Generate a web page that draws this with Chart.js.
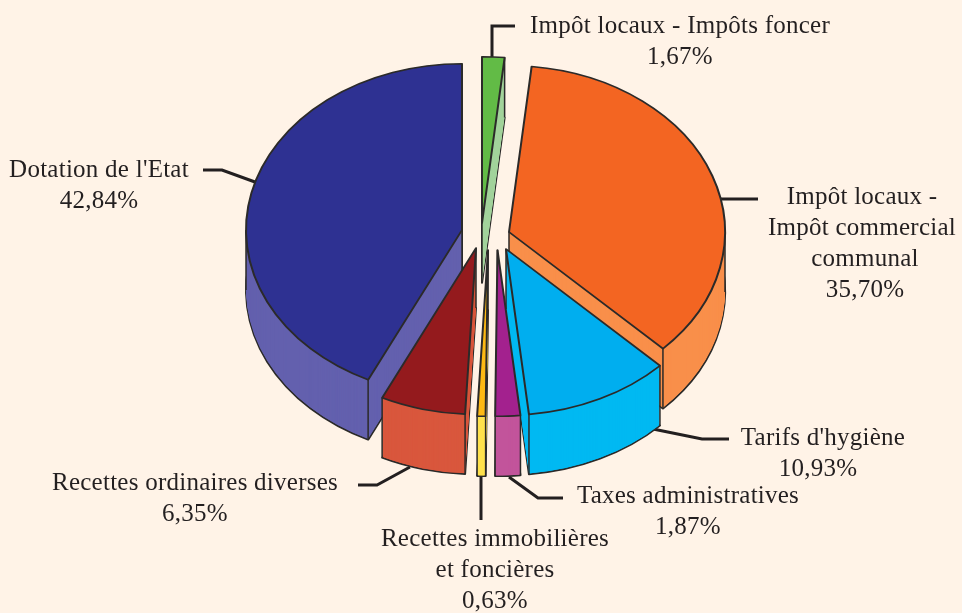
<!DOCTYPE html>
<html>
<head>
<meta charset="utf-8">
<title>Recettes</title>
<script src="https://cdn.jsdelivr.net/npm/chart.js@4/dist/chart.umd.min.js"></script>
<style>
  html, body { margin: 0; padding: 0; background: #fff3e7; }
  canvas { display: block; }
</style>
</head>
<body>
<canvas id="myChart" width="962" height="613"></canvas>
<script>
// data, in pie order (clockwise from the top)
const categories = [
  ['Impôt locaux - Impôts foncer'],
  ['Impôt locaux -', 'Impôt commercial', 'communal'],
  ["Tarifs d'hygiène"],
  ['Taxes administratives'],
  ['Recettes immobilières', 'et foncières'],
  ['Recettes ordinaires diverses'],
  ["Dotation de l'Etat"]
];
const values = [1.67, 35.70, 10.93, 1.87, 0.63, 6.35, 42.84];
const topColors = ['#62bb46', '#f36522', '#00aeef', '#a3218e', '#fdb913', '#941a1d', '#2e3192'];
const wallColors = ['#a3d39c', '#f98f4a', '#00b9f2', '#c2549b', '#ffe14d', '#d9573d', '#6360ae'];

// look of the 3D pie
const SQUASH = 0.77;
const DEPTH = 60;
const RADIUS = 216;
const LINE = '#2b2a29';
const INK = '#231f20';
const PIE_CENTER = [485, 237];
// how far each slice is pulled out, in pixels on the page
const pullOut = [[-3, -14], [24, -5], [21, 12], [12.5, 13], [3, 13], [-9, 11], [-23, -7]];
// back slices first
const drawOrder = [0, 6, 1, 2, 5, 4, 3];

// text blocks: centre x of each line and first baseline
const labelX = [[680], [862, 862, 865], [823], [688], [495, 495], [195], [99]];
const labelPctX = [680, 865, 818, 688, 495, 195, 99];
const labelY = [33, 204, 445, 503, 546, 490, 177];
const LINE_HEIGHT = 31;
const leaders = [
  [[492, 57], [492, 26], [515, 26]],
  [[720, 199], [758, 199]],
  [[653, 429], [702, 439], [729, 439]],
  [[509, 477], [538, 498], [563, 498]],
  [[481, 477], [481, 520]],
  [[410, 467], [377, 485], [358, 485]],
  [[255, 182], [222, 170], [203, 170]]
];

function arcStyle(fill, border) {
  return {
    backgroundColor: fill,
    borderColor: LINE,
    borderWidth: border,
    borderAlign: 'center',
    borderJoinStyle: 'round',
    borderDash: [],
    borderDashOffset: 0,
    borderRadius: 0,
    circular: true,
    offset: 0,
    spacing: 0
  };
}

function drawLayer(ctx, arc, i, drop, fill, border) {
  const copy = Object.create(arc);
  copy.options = arcStyle(fill, border);
  ctx.save();
  ctx.translate(PIE_CENTER[0] + pullOut[i][0], PIE_CENTER[1] + pullOut[i][1] + drop);
  ctx.scale(1, SQUASH);
  ctx.translate(-arc.x, -arc.y);
  copy.draw(ctx);
  ctx.restore();
}

function drawEdges(ctx, arc, i) {
  const x0 = PIE_CENTER[0] + pullOut[i][0];
  const y0 = PIE_CENTER[1] + pullOut[i][1];
  const r = arc.outerRadius;
  const angles = [arc.startAngle, arc.endAngle];
  [0, Math.PI].forEach(a => {
    if (a > arc.startAngle && a < arc.endAngle) angles.push(a);
  });
  ctx.strokeStyle = LINE;
  ctx.lineWidth = 1.5;
  ctx.beginPath();
  ctx.moveTo(x0, y0);
  ctx.lineTo(x0, y0 + DEPTH);
  angles.forEach(a => {
    const x = x0 + Math.cos(a) * r;
    const y = y0 + Math.sin(a) * r * SQUASH;
    ctx.moveTo(x, y);
    ctx.lineTo(x, y + DEPTH);
  });
  ctx.stroke();
}

const pie3d = {
  id: 'pie3d',
  beforeDatasetsDraw(chart) {
    const ctx = chart.ctx;
    const arcs = chart.getDatasetMeta(0).data;

    ctx.strokeStyle = INK;
    ctx.lineWidth = 3;
    leaders.forEach(points => {
      ctx.beginPath();
      points.forEach((p, n) => (n ? ctx.lineTo(p[0], p[1]) : ctx.moveTo(p[0], p[1])));
      ctx.stroke();
    });

    drawOrder.forEach(i => {
      const arc = arcs[i];
      drawLayer(ctx, arc, i, DEPTH, wallColors[i], 2);
      for (let d = DEPTH - 1; d > 0; d--) {
        drawLayer(ctx, arc, i, d, wallColors[i], 0);
      }
      drawEdges(ctx, arc, i);
      drawLayer(ctx, arc, i, 0, topColors[i], 2);
    });
    return false; // the default flat pie is not wanted
  },
  afterDraw(chart) {
    const ctx = chart.ctx;
    ctx.fillStyle = INK;
    ctx.font = '25px "Liberation Serif"';
    ctx.letterSpacing = '0.25px';
    ctx.textAlign = 'center';
    ctx.textBaseline = 'alphabetic';
    categories.forEach((lines, i) => {
      lines.forEach((line, n) => {
        ctx.fillText(line, labelX[i][n], labelY[i] + n * LINE_HEIGHT);
      });
      const pct = values[i].toFixed(2).replace('.', ',') + '%';
      ctx.fillText(pct, labelPctX[i], labelY[i] + lines.length * LINE_HEIGHT);
    });
  }
};

new Chart(document.getElementById('myChart'), {
  type: 'pie',
  data: {
    labels: categories.map(lines => lines.join(' ')),
    datasets: [{ data: values, backgroundColor: topColors, borderWidth: 0 }]
  },
  options: {
    responsive: false,
    animation: false,
    radius: RADIUS,
    plugins: { legend: { display: false }, tooltip: { enabled: false } }
  },
  plugins: [pie3d]
});
</script>
</body>
</html>
